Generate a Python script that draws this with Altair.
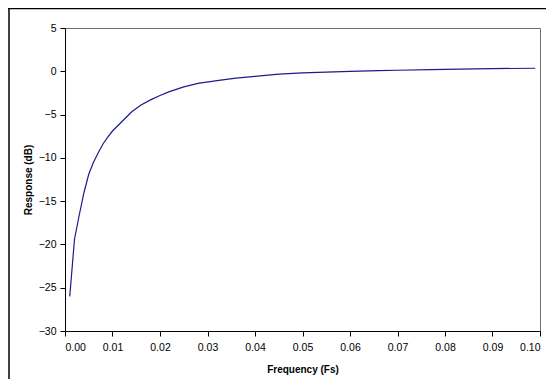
import altair as alt
import pandas as pd

freq = [0.001, 0.002, 0.003, 0.004, 0.005, 0.006, 0.007, 0.008, 0.009, 0.010,
        0.012, 0.014, 0.016, 0.018, 0.020, 0.022, 0.025, 0.028, 0.032, 0.036,
        0.040, 0.045, 0.050, 0.055, 0.060, 0.066, 0.070, 0.077, 0.083, 0.090, 0.099]
resp = [-26.0, -19.4, -16.6, -14.0, -11.9, -10.5, -9.4, -8.4, -7.6, -6.9,
        -5.8, -4.7, -3.9, -3.3, -2.8, -2.35, -1.8, -1.4, -1.07, -0.78,
        -0.58, -0.33, -0.18, -0.09, -0.02, 0.08, 0.12, 0.19, 0.25, 0.31, 0.35]

x_ticks = [0.0, 0.01, 0.02, 0.03, 0.04, 0.05, 0.06, 0.07, 0.08, 0.09, 0.10]
y_ticks = [5, 0, -5, -10, -15, -20, -25, -30]

df = pd.DataFrame({"f": freq, "r": resp})

FONT = "Liberation Sans"

line = alt.Chart(df).mark_line(color="#1c1c8a", strokeWidth=1.2).encode(
    x=alt.X("f:Q", scale=alt.Scale(domain=[0, 0.1], nice=False, zero=False),
            axis=alt.Axis(values=x_ticks, format=".2f", title="Frequency (Fs)",
                          grid=False, tickSize=5, labelPadding=6, titlePadding=12,
                          domainColor="black", tickColor="black",
                          labelFont=FONT, labelFontSize=10.5, labelColor="black",
                          titleFont=FONT, titleFontSize=10, titleFontWeight="bold",
                          titleColor="black")),
    y=alt.Y("r:Q", scale=alt.Scale(domain=[-30, 5], nice=False, zero=False),
            axis=alt.Axis(values=y_ticks, title="Response (dB)",
                          grid=False, tickSize=5, labelPadding=4, titlePadding=5,
                          domainColor="black", tickColor="black",
                          labelFont=FONT, labelFontSize=10.5, labelColor="black",
                          titleFont=FONT, titleFontSize=10, titleFontWeight="bold",
                          titleColor="black")),
)

one = pd.DataFrame({"a": [0]})
frame_left = alt.Chart(one).mark_rule(color="black", strokeWidth=1.5).encode(
    x=alt.value(-56), y=alt.value(-20), y2=alt.value(400)
)
frame_top = alt.Chart(one).mark_rule(color="black", strokeWidth=1.5).encode(
    x=alt.value(-57), x2=alt.value(600), y=alt.value(-19.5)
)

chart = alt.layer(frame_left, frame_top, line).properties(
    width=475, height=303,
    autosize=alt.AutoSizeParams(type="none"),
    padding={"left": 57, "top": 20, "right": 6, "bottom": 48},
    background="white",
).configure_view(stroke="#707070", strokeWidth=1)

chart.save("out.html", embed_options={"renderer": "svg", "actions": False})
